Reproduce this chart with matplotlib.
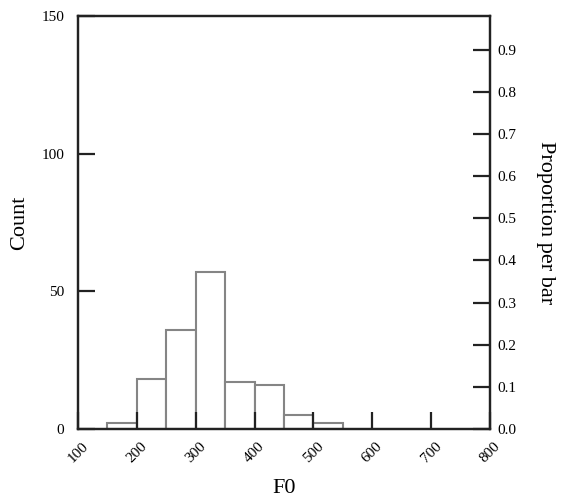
import matplotlib
matplotlib.use("Agg")
import matplotlib.pyplot as plt
import numpy as np

# F0 histogram: bin edges (Hz) and counts per bin
bin_edges = [150, 200, 250, 300, 350, 400, 450, 500, 550]
counts = [2, 18, 36, 57, 17, 16, 5, 2]

x_ticks = [100, 200, 300, 400, 500, 600, 700, 800]
count_ticks = [0, 50, 100, 150]
prop_ticks = [0.0, 0.1, 0.2, 0.3, 0.4, 0.5, 0.6, 0.7, 0.8, 0.9]

plt.rcParams['font.family'] = ['Liberation Serif', 'DejaVu Serif']

fig = plt.figure(figsize=(5.62, 5.01), dpi=100)
ax = fig.add_axes([78 / 562, 1 - 429 / 501, (490 - 78) / 562, (429 - 16) / 501])

lefts = np.array(bin_edges[:-1])
widths = np.diff(bin_edges)
ax.bar(lefts, counts, width=widths, align='edge', facecolor='white',
       edgecolor='#858585', linewidth=1.5, zorder=1)

ax.set_xlim(100, 800)
ax.set_ylim(0, 150)
ax.set_xticks(x_ticks)
ax.set_xticklabels([str(v) for v in x_ticks], rotation=45, ha='center', va='top')
ax.set_yticks(count_ticks)
ax.set_yticklabels([str(v) for v in count_ticks])
ax.tick_params(axis='both', direction='in', length=12, width=1.6, labelsize=11,
               color='#222222')
ax.tick_params(axis='y', pad=10)
ax.tick_params(axis='x', pad=8)
for s in ax.spines.values():
    s.set_linewidth(1.6)
    s.set_color('#222222')
    s.set_zorder(3)

ax.set_xlabel('F0', fontsize=16, labelpad=10)
ax.set_ylabel('Count', fontsize=16, labelpad=9)

# Right axis: proportion of all observations per bar
total = sum(counts)
ax2 = ax.twinx()
ax2.set_ylim(0, 150 / total)
ax2.set_yticks(prop_ticks)
ax2.set_yticklabels([f"{v:.1f}" for v in prop_ticks])
ax2.tick_params(axis='y', direction='in', length=12, width=1.6, labelsize=11,
                pad=5, color='#222222')
for s in ax2.spines.values():
    s.set_linewidth(1.6)
    s.set_color('#222222')
ax2.set_ylabel('Proportion per bar', fontsize=16, rotation=-90, labelpad=28)

fig.savefig('out.png', dpi=100)
